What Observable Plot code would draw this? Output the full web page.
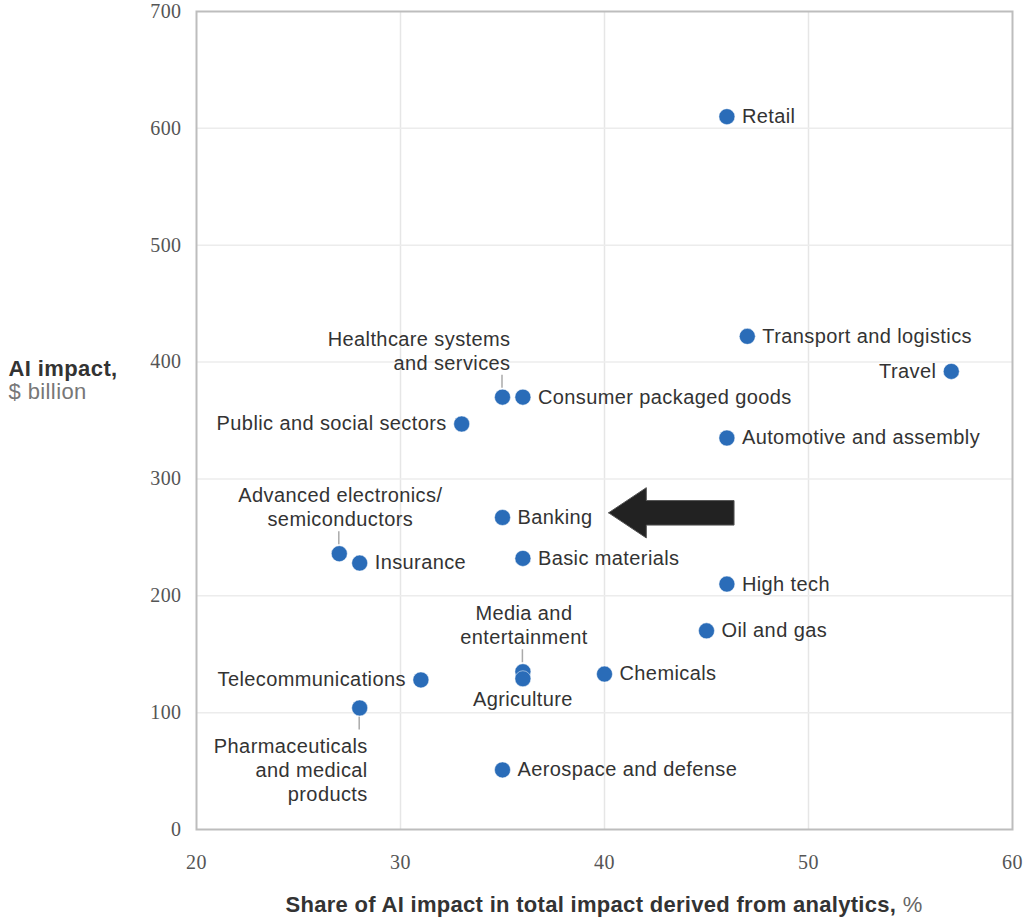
<!DOCTYPE html>
<html>
<head>
<meta charset="utf-8">
<script src="https://cdn.jsdelivr.net/npm/d3@7"></script>
<script src="https://cdn.jsdelivr.net/npm/@observablehq/plot@0.6"></script>
<style>
  body { margin: 0; background: #fff; }
  #chart svg { display: block; }
  #chart svg text { letter-spacing: 0.4px; }
  #xlabel { margin-left: 196px; width: 816px; padding-top: 12px; line-height: 26px; text-align: center;
    font-family: "Liberation Sans", Arial, sans-serif; font-size: 22px; color: #333; letter-spacing: 0.3px; }
  #xlabel b { font-weight: bold; }
  #xlabel span { color: #666; }
</style>
</head>
<body>
<div id="chart"></div>
<div id="xlabel"><b>Share of AI impact in total impact derived from analytics,</b> <span>%</span></div>
<script>
// ---- data ----
const sectors = [
  "Retail", "Transport and logistics", "Travel", "Healthcare systems\nand services",
  "Consumer packaged goods", "Public and social sectors", "Automotive and assembly",
  "Banking", "Advanced electronics/\nsemiconductors", "Insurance", "Basic materials",
  "High tech", "Oil and gas", "Media and\nentertainment", "Agriculture", "Chemicals",
  "Telecommunications", "Pharmaceuticals\nand medical\nproducts", "Aerospace and defense"
];
const analyticsShare = [46, 47, 57, 35, 36, 33, 46, 35, 27, 28, 36, 46, 45, 36, 36, 40, 31, 28, 35];
const aiImpact = [610, 422, 392, 370, 370, 347, 335, 267, 236, 228, 232, 210, 170, 135, 129, 133, 128, 104, 51];
const xTicks = [20, 30, 40, 50, 60];
const yTicks = [0, 100, 200, 300, 400, 500, 600, 700];
// arrow pointing at the highlighted sector (Banking), data units
const arrowTip = {x: 40.2, y: 271};
const arrowTailX = 46.35;

const data = sectors.map((s, i) => ({sector: s, share: analyticsShare[i], impact: aiImpact[i]}));

// label placement (style, not data)
const placeLeft = new Set(["Travel", "Public and social sectors", "Telecommunications"]);
const placeAboveRight = new Set(["Healthcare systems\nand services"]);
const placeAboveCenter = new Set(["Advanced electronics/\nsemiconductors", "Media and\nentertainment"]);
const placeBelowCenter = new Set(["Agriculture"]);
const placeBelowRight = new Set(["Pharmaceuticals\nand medical\nproducts"]);
const isRight = d => !placeLeft.has(d.sector) && !placeAboveRight.has(d.sector) && !placeAboveCenter.has(d.sector) && !placeBelowCenter.has(d.sector) && !placeBelowRight.has(d.sector);

// arrow polygon
const shaftHalf = 10.5, headHalf = 21.5, headLen = 1.85;
const arrowPoly = [
  [arrowTip.x, arrowTip.y],
  [arrowTip.x + headLen, arrowTip.y + headHalf],
  [arrowTip.x + headLen, arrowTip.y + shaftHalf],
  [arrowTailX, arrowTip.y + shaftHalf],
  [arrowTailX, arrowTip.y - shaftHalf],
  [arrowTip.x + headLen, arrowTip.y - shaftHalf],
  [arrowTip.x + headLen, arrowTip.y - headHalf],
  [arrowTip.x, arrowTip.y]
];

const font = "'Liberation Sans', Arial, Helvetica, sans-serif";
const serif = "'Liberation Serif', 'Times New Roman', serif";
const blue = "#2a6cb8";
const textCol = "#333";
const fs = 20;

const leaders = [
  ...data.filter(d => placeAboveRight.has(d.sector) || placeAboveCenter.has(d.sector)).map(d => ({...d, dir: -1})),
  ...data.filter(d => placeBelowRight.has(d.sector)).map(d => ({...d, dir: 1}))
];

const chart = Plot.plot({
  width: 1025,
  height: 880,
  marginLeft: 196,
  marginRight: 13,
  marginTop: 11,
  marginBottom: 51,
  x: {domain: [20, 60], ticks: xTicks},
  y: {domain: [0, 700], ticks: yTicks},
  style: {fontFamily: font, background: "#fff"},
  marks: [
    Plot.gridX(xTicks.slice(1, -1), {stroke: "#e6e6e6", strokeOpacity: 1, strokeWidth: 1.5}),
    Plot.gridY(yTicks.slice(1, -1), {stroke: "#ececec", strokeOpacity: 1, strokeWidth: 1.5}),
    Plot.frame({stroke: "#bdbdbd", strokeWidth: 2}),
    Plot.axisX(xTicks, {tickSize: 0, tickPadding: 25, fontFamily: serif, fontSize: 20, fill: "#555", label: null}),
    Plot.axisY(yTicks, {tickSize: 0, tickPadding: 15, fontFamily: serif, fontSize: 20, fill: "#555", label: null}),
    // y axis title
    Plot.text(["AI impact,"], {frameAnchor: "left", dx: -188, dy: -52, textAnchor: "start", fontWeight: "bold", fontSize: 22, fill: "#333"}),
    Plot.text(["$ billion"], {frameAnchor: "left", dx: -188, dy: -29, textAnchor: "start", fontSize: 22, fill: "#777"}),
    // leader lines
    Plot.link(leaders, {x1: "share", x2: "share", y1: "impact", y2: "impact",
      render(index, scales, values) {
        const g = d3.create("svg:g").attr("stroke", "#aaa").attr("stroke-width", 1.5);
        for (const i of index) {
          const x = values.x1[i], y = values.y1[i], dir = leaders[i].dir;
          g.append("line").attr("x1", x).attr("x2", x)
            .attr("y1", y + dir * 9).attr("y2", y + dir * 22);
        }
        return g.node();
      }}),
    // arrow
    Plot.line(arrowPoly, {x: d => d[0], y: d => d[1], fill: "#222", stroke: "#555", strokeWidth: 1, curve: "linear"}),
    // points
    Plot.dot(data, {x: "share", y: "impact", r: 8, fill: blue, stroke: "#fff", strokeWidth: 0.5}),
    // labels
    Plot.text(data.filter(isRight), {x: "share", y: "impact", text: "sector", textAnchor: "start", dx: 15, fontSize: fs, fill: textCol}),
    Plot.text(data.filter(d => placeLeft.has(d.sector)), {x: "share", y: "impact", text: "sector", textAnchor: "end", dx: -15, fontSize: fs, fill: textCol}),
    Plot.text(data.filter(d => placeAboveRight.has(d.sector)), {x: "share", y: "impact", text: "sector", textAnchor: "end", dx: 8, dy: -47, lineHeight: 1.2, fontSize: fs, fill: textCol}),
    Plot.text(data.filter(d => placeAboveCenter.has(d.sector)), {x: "share", y: "impact", text: "sector", textAnchor: "middle", dx: 1, dy: -47, lineHeight: 1.2, fontSize: fs, fill: textCol}),
    Plot.text(data.filter(d => placeBelowCenter.has(d.sector)), {x: "share", y: "impact", text: "sector", textAnchor: "middle", dy: 21, fontSize: fs, fill: textCol}),
    Plot.text(data.filter(d => placeBelowRight.has(d.sector)), {x: "share", y: "impact", text: "sector", textAnchor: "end", dx: 8, dy: 61, lineHeight: 1.2, fontSize: fs, fill: textCol})
  ]
});
document.getElementById("chart").appendChild(chart);
</script>
</body>
</html>
